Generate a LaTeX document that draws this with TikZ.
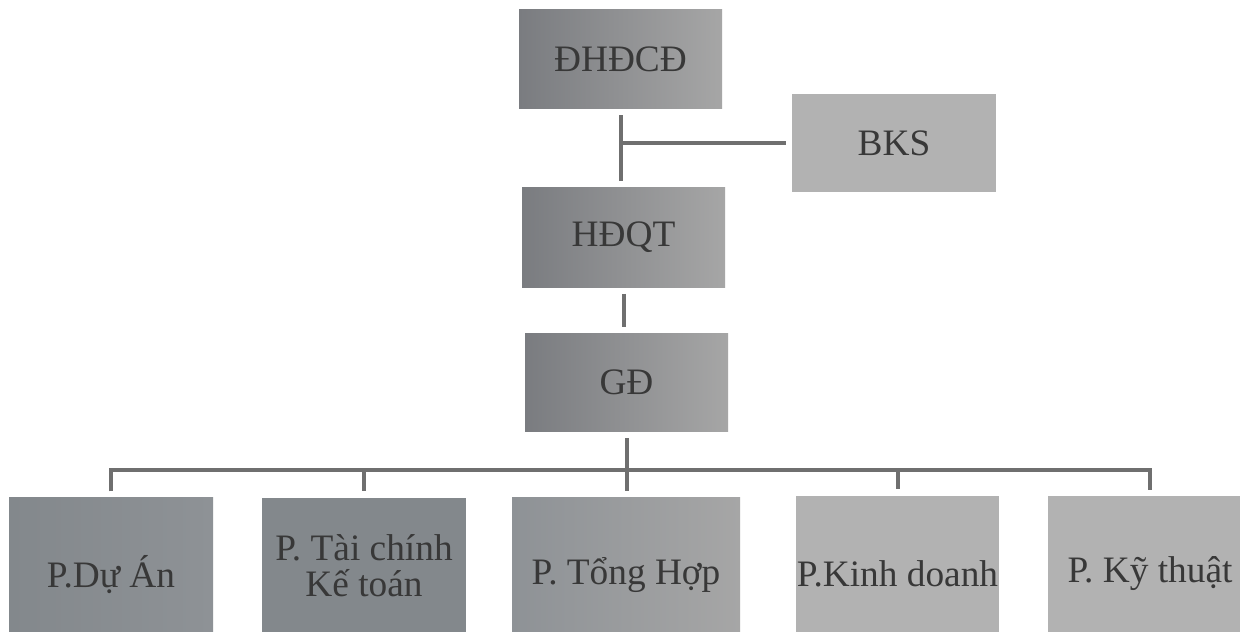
\documentclass[tikz,border=0pt]{standalone}
\usepackage{fontspec}
\setmainfont{Liberation Serif}
\frenchspacing
\definecolor{lineC}{HTML}{6F6F6F}
\definecolor{txtC}{HTML}{383838}
\definecolor{darkL}{HTML}{7A7C80}
\definecolor{darkR}{HTML}{A6A6A6}
\definecolor{midL}{HTML}{83888C}
\definecolor{midR}{HTML}{8E9296}
\definecolor{lightC}{HTML}{B2B2B2}
\begin{document}
\begin{tikzpicture}[x=0.75pt,y=-0.75pt,
  box/.style={draw=none, inner sep=0pt, align=flush center, text=txtC,
    font=\fontsize{28}{27}\selectfont},
  topbox/.style={box, text width=152.25pt, minimum height=74pt},
  lowbox/.style={box, minimum height=117pt},
  darkshade/.style={left color=darkL, right color=darkR},
  blueshade/.style={left color=midL, right color=midR},
  lightshade/.style={fill=lightC},
  conn/.style={draw=lineC, line width=3pt, line join=miter}
]
\useasboundingbox (0,0) rectangle (1240,632);
\fill[white] (0,0) rectangle (1240,632);
\clip (0,0) rectangle (1240,632);

\node[topbox, darkshade] (dh) at (620.5,59) {ĐHĐCĐ};
\node[topbox, lightshade, text width=153pt] (bks) at (894,143) {BKS};
\node[topbox, darkshade, minimum height=75pt] (hd) at (623.5,237) {HĐQT};
\node[topbox, darkshade] (gd) at (626.5,382.5) {GĐ};

\node[lowbox, blueshade, text width=153pt] (da) at (111,575) {P.Dự Án};
\node[lowbox, fill=midL, text width=153pt, minimum height=102pt] (tc) at (364,566) {P. Tài chính\\Kế toán};
\node[lowbox, left color=midR, right color=darkR, text width=171pt] (th) at (626,575) {P. Tổng Hợp};
\node[lowbox, lightshade, text width=152.25pt] (kd) at (897.5,574) {P.Kinh doanh};
\node[lowbox, lightshade, text width=153pt] (kt) at (1150,574) {P. Kỹ thuật};

\coordinate (bus) at (626,470);

\draw[conn, shorten <=5pt, shorten >=4pt] (dh.south) -- (dh.south |- hd.north);
\draw[conn, shorten <=4.5pt] (bks.west) -- (bks.west -| dh.south);
\draw[conn, shorten <=5pt, shorten >=4.5pt] (hd.south) -- (hd.south |- gd.north);
\draw[conn, shorten <=4.5pt, shorten >=4pt] (gd.south) -- (gd.south |- th.north);
\draw[conn, shorten <=4pt, shorten >=4pt] (da.north) -- (da.north |- bus) -- (kt.north |- bus) -- (kt.north);
\draw[conn, shorten >=5pt] (tc.north |- bus) -- (tc.north);
\draw[conn, shorten >=5pt] (kd.north |- bus) -- (kd.north);
\end{tikzpicture}
\end{document}
